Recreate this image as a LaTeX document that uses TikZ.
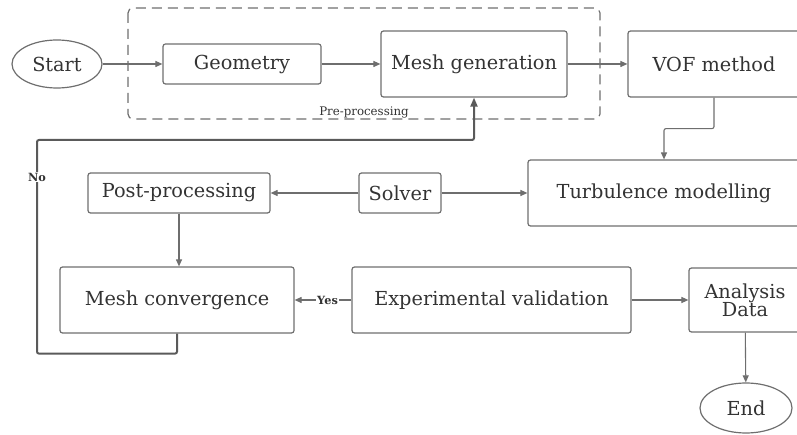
\documentclass[tikz,border=0pt]{standalone}
\usepackage{fontspec}
\setmainfont{DejaVu Serif}
\usetikzlibrary{arrows.meta,shapes.geometric}
\definecolor{ln}{HTML}{6E6E6E}
\definecolor{lp}{HTML}{5A5A5A}
\definecolor{tx}{HTML}{333333}
\begin{document}
\begin{tikzpicture}[x=1pt,y=-1pt,
  box/.style={draw=ln, line width=1.2pt, rounded corners=2.5pt, rectangle, text=tx,
    font=\fontsize{19.3}{21}\selectfont, inner sep=0pt, align=center},
  term/.style={draw=ln, line width=1.2pt, ellipse, text=tx,
    font=\fontsize{19.3}{21}\selectfont, inner sep=0pt},
  arr/.style={draw=ln, line width=1.1pt, -{Triangle[length=7pt,width=6pt]}},
  back/.style={draw=lp, line width=2pt, rounded corners=2pt, -{Triangle[length=9pt,width=7pt]}},
  lab/.style={fill=white, text=tx, inner sep=1pt, font=\bfseries\fontsize{11.3}{12}\selectfont}]
\useasboundingbox (0,0) rectangle (797,435);
% pre-processing group
\draw[ln, line width=1.2pt, dash pattern=on 10pt off 6pt, rounded corners=5pt] (128,8) rectangle (600,119);
\node[text=tx, font=\fontsize{11.8}{13}\selectfont, anchor=base] (pre) at (364,116) {Pre-processing};
% nodes
\node[term, minimum width=90pt, minimum height=48pt] (start) at (57,64) {Start};
\node[box, minimum width=158pt, minimum height=40pt] (geom) at (242,64) {Geometry};
\node[box, minimum width=186pt, minimum height=66pt] (mesh) at (474,64) {Mesh generation};
\node[box, minimum width=172pt, minimum height=66pt] (vof) at (714,64) {VOF method};
\node[box, minimum width=272pt, minimum height=66pt] (turb) at (664,193) {Turbulence modelling};
\node[box, minimum width=82pt, minimum height=40pt] (solver) at (400,193) {Solver};
\node[box, minimum width=182pt, minimum height=40pt] (post) at (179,193) {Post-processing};
\node[box, minimum width=234pt, minimum height=66pt] (conv) at (177,300) {Mesh convergence};
\node[box, minimum width=279pt, minimum height=66pt] (exp) at (491.5,300) {Experimental validation};
\node[box, minimum width=112pt, minimum height=64pt] (ana) at (745,300) {Analysis\\[-3pt]Data};
\node[term, minimum width=92pt, minimum height=50pt] (end) at (746,408) {End};
\coordinate (nobend) at (37,140);
% connectors
\draw[arr] (start) -- (geom);
\draw[arr] (geom) -- (mesh);
\draw[arr] (mesh) -- (vof);
\draw[arr, rounded corners=2pt] (vof.south) -- ++(0,31) -| (turb.north);
\draw[arr] (solver) -- (post);
\draw[arr] (solver) -- (turb);
\draw[arr] (post.south) -- (post.south |- conv.north);
\draw[arr] (exp) -- node[lab, pos=0.42] {Yes} (conv);
\draw[arr] (exp) -- (ana);
\draw[arr] (ana) -- (end);
\draw[back] (conv.south) -- ++(0,20) -| (nobend) -| (mesh.south);
\node[lab] (no) at (37,177) {No};
\end{tikzpicture}
\end{document}
